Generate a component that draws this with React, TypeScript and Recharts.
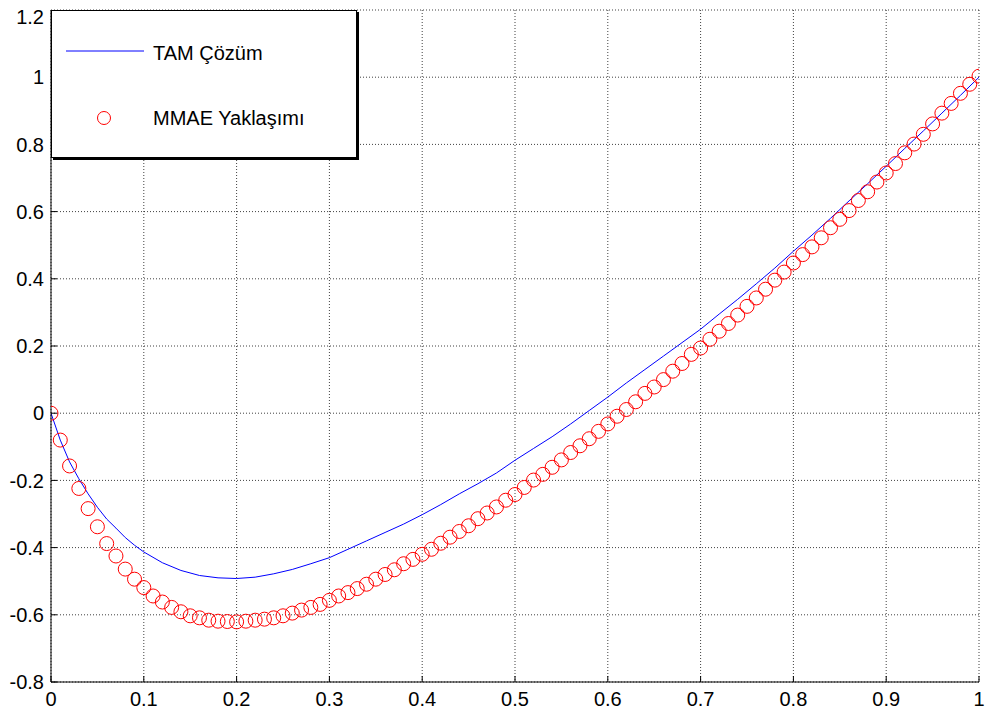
import {
  CartesianGrid,
  ComposedChart,
  Legend,
  Line,
  Scatter,
  XAxis,
  YAxis,
} from "recharts";

// x grid of the MMAE approximation (step 0.01)
const mmaeX = [
  0, 0.01, 0.02, 0.03, 0.04, 0.05, 0.06, 0.07, 0.08, 0.09,
  0.1, 0.11, 0.12, 0.13, 0.14, 0.15, 0.16, 0.17, 0.18, 0.19,
  0.2, 0.21, 0.22, 0.23, 0.24, 0.25, 0.26, 0.27, 0.28, 0.29,
  0.3, 0.31, 0.32, 0.33, 0.34, 0.35, 0.36, 0.37, 0.38, 0.39,
  0.4, 0.41, 0.42, 0.43, 0.44, 0.45, 0.46, 0.47, 0.48, 0.49,
  0.5, 0.51, 0.52, 0.53, 0.54, 0.55, 0.56, 0.57, 0.58, 0.59,
  0.6, 0.61, 0.62, 0.63, 0.64, 0.65, 0.66, 0.67, 0.68, 0.69,
  0.7, 0.71, 0.72, 0.73, 0.74, 0.75, 0.76, 0.77, 0.78, 0.79,
  0.8, 0.81, 0.82, 0.83, 0.84, 0.85, 0.86, 0.87, 0.88, 0.89,
  0.9, 0.91, 0.92, 0.93, 0.94, 0.95, 0.96, 0.97, 0.98, 0.99, 1,
];

const mmaeY = [
  0, -0.08, -0.157, -0.224, -0.284, -0.338, -0.388, -0.425, -0.464, -0.494,
  -0.519, -0.544, -0.562, -0.578, -0.591, -0.603, -0.609, -0.616, -0.619, -0.62,
  -0.621, -0.619, -0.616, -0.613, -0.609, -0.603, -0.595, -0.586, -0.578, -0.569,
  -0.557, -0.544, -0.534, -0.522, -0.509, -0.494, -0.48, -0.466, -0.448, -0.435,
  -0.42, -0.405, -0.387, -0.369, -0.352, -0.335, -0.314, -0.297, -0.279, -0.259,
  -0.242, -0.221, -0.199, -0.182, -0.161, -0.139, -0.117, -0.097, -0.076, -0.054,
  -0.032, -0.009, 0.011, 0.034, 0.059, 0.078, 0.1, 0.125, 0.148, 0.175,
  0.194, 0.22, 0.244, 0.267, 0.292, 0.318, 0.343, 0.369, 0.396, 0.42,
  0.447, 0.472, 0.495, 0.522, 0.552, 0.577, 0.603, 0.633, 0.659, 0.688,
  0.715, 0.743, 0.775, 0.801, 0.83, 0.861, 0.893, 0.922, 0.952, 0.979, 1.003,
];

// exact solution
const tamX = [
  0, 0.01, 0.02, 0.03, 0.04, 0.05, 0.06, 0.07, 0.08, 0.09, 0.1,
  0.12, 0.14, 0.16, 0.18, 0.2, 0.22, 0.24, 0.26, 0.28, 0.3,
  0.32, 0.34, 0.36, 0.38, 0.4, 0.42, 0.44, 0.46, 0.48, 0.5,
  0.52, 0.54, 0.56, 0.58, 0.6, 0.62, 0.64, 0.66, 0.68, 0.7,
  0.72, 0.74, 0.76, 0.78, 0.8, 0.82, 0.84, 0.86, 0.88, 0.9,
  0.92, 0.94, 0.96, 0.98, 1,
];

const tamY = [
  0, -0.08, -0.145, -0.195, -0.24, -0.28, -0.315, -0.342, -0.37, -0.393, -0.413,
  -0.445, -0.468, -0.483, -0.49, -0.492, -0.488, -0.478, -0.465, -0.448, -0.43,
  -0.405, -0.38, -0.355, -0.33, -0.302, -0.272, -0.24, -0.21, -0.178, -0.14,
  -0.105, -0.07, -0.032, 0.008, 0.048, 0.09, 0.13, 0.17, 0.21, 0.25,
  0.295, 0.339, 0.385, 0.432, 0.482, 0.53, 0.58, 0.632, 0.683, 0.735,
  0.788, 0.84, 0.893, 0.946, 1,
];

const xTicks = [0, 0.1, 0.2, 0.3, 0.4, 0.5, 0.6, 0.7, 0.8, 0.9, 1];
const yTicks = [-0.8, -0.6, -0.4, -0.2, 0, 0.2, 0.4, 0.6, 0.8, 1, 1.2];

const tamData = tamX.map((x, i) => ({ x, y: tamY[i] }));
const mmaeData = mmaeX.map((x, i) => ({ x, y: mmaeY[i] }));

const FONT = "'Liberation Sans', Arial, sans-serif";
const FONT_SIZE = 20;
const TICK_LEN = 6;

function LeftTick(props: any) {
  const { x, y, payload } = props;
  return (
    <g>
      <line x1={x + 7} x2={x + 7 + TICK_LEN} y1={y} y2={y} stroke="#000" />
      <text x={x} y={y} dy="0.355em" textAnchor="end" fontSize={FONT_SIZE} fontFamily={FONT} fill="#000">
        {payload.value}
      </text>
    </g>
  );
}

function BottomTick(props: any) {
  const { x, y, payload } = props;
  return (
    <g>
      <line x1={x} x2={x} y1={y - 10} y2={y - 10 - TICK_LEN} stroke="#000" />
      <text x={x} y={y} dy="0.71em" textAnchor="middle" fontSize={FONT_SIZE} fontFamily={FONT} fill="#000">
        {payload.value}
      </text>
    </g>
  );
}

function RightTick(props: any) {
  const { x, y } = props;
  return <line x1={x} x2={x - TICK_LEN} y1={y} y2={y} stroke="#000" />;
}

function TopTick(props: any) {
  const { x, y } = props;
  return <line x1={x} x2={x} y1={y} y2={y + TICK_LEN} stroke="#000" />;
}

function Ring(props: any) {
  const { cx, cy } = props;
  return <circle cx={cx} cy={cy} r={7} fill="none" stroke="#ff0000" strokeWidth={1} />;
}

function LegendBox() {
  return (
    <div
      style={{
        width: 304,
        height: 146,
        border: "1px solid #000",
        boxShadow: "2px 2px 0 #000",
        background: "#fff",
      }}
    >
      <svg width={304} height={146} style={{ display: "block" }}>
        <line x1={14} x2={92} y1={40} y2={40} stroke="#0000ff" strokeWidth={1} />
        <text x={101} y={49} fontSize={FONT_SIZE} fontFamily={FONT} fill="#000">
          TAM Çözüm
        </text>
        <circle cx={52} cy={107} r={6.5} fill="none" stroke="#ff0000" />
        <text x={101} y={114} fontSize={FONT_SIZE} fontFamily={FONT} fill="#000">
          MMAE Yaklaşımı
        </text>
      </svg>
    </div>
  );
}

export default function App() {
  return (
    <div>
      {/* the 1.2 label sits in the body margin, above the svg */}
      <style>{".recharts-surface { overflow: visible; }"}</style>
      <ComposedChart
        width={981}
        height={704}
        margin={{ top: 2, right: 10, bottom: 0, left: 0 }}
        style={{ fontFamily: FONT }}
      >
        <CartesianGrid stroke="#000" strokeOpacity={0.75} strokeDasharray="1 2" />
        <XAxis
          dataKey="x"
          type="number"
          domain={[0, 1]}
          ticks={xTicks}
          allowDataOverflow
          height={30}
          tickSize={0}
          tickMargin={10}
          axisLine={{ stroke: "#000" }}
          tick={<BottomTick />}
        />
        <XAxis
          xAxisId="top"
          dataKey="x"
          type="number"
          orientation="top"
          domain={[0, 1]}
          ticks={xTicks}
          allowDataOverflow
          height={0}
          tickSize={0}
          tickMargin={0}
          axisLine={{ stroke: "#000" }}
          tick={<TopTick />}
        />
        <YAxis
          type="number"
          domain={[-0.8, 1.2]}
          ticks={yTicks}
          allowDataOverflow
          width={43}
          tickSize={0}
          tickMargin={7}
          axisLine={{ stroke: "#000" }}
          tick={<LeftTick />}
        />
        <YAxis
          yAxisId="right"
          orientation="right"
          type="number"
          domain={[-0.8, 1.2]}
          ticks={yTicks}
          allowDataOverflow
          width={0}
          tickSize={0}
          tickMargin={0}
          axisLine={{ stroke: "#000" }}
          tick={<RightTick />}
        />
        <Legend
          layout="horizontal"
          verticalAlign="middle"
          align="center"
          content={<LegendBox />}
          wrapperStyle={{ left: 43, top: 2, width: 306, height: 148 }}
        />
        <Line
          data={tamData}
          dataKey="y"
          type="linear"
          stroke="#0000ff"
          strokeWidth={1}
          dot={false}
          isAnimationActive={false}
        />
        <Scatter data={mmaeData} dataKey="y" shape={<Ring />} isAnimationActive={false} />
      </ComposedChart>
    </div>
  );
}
